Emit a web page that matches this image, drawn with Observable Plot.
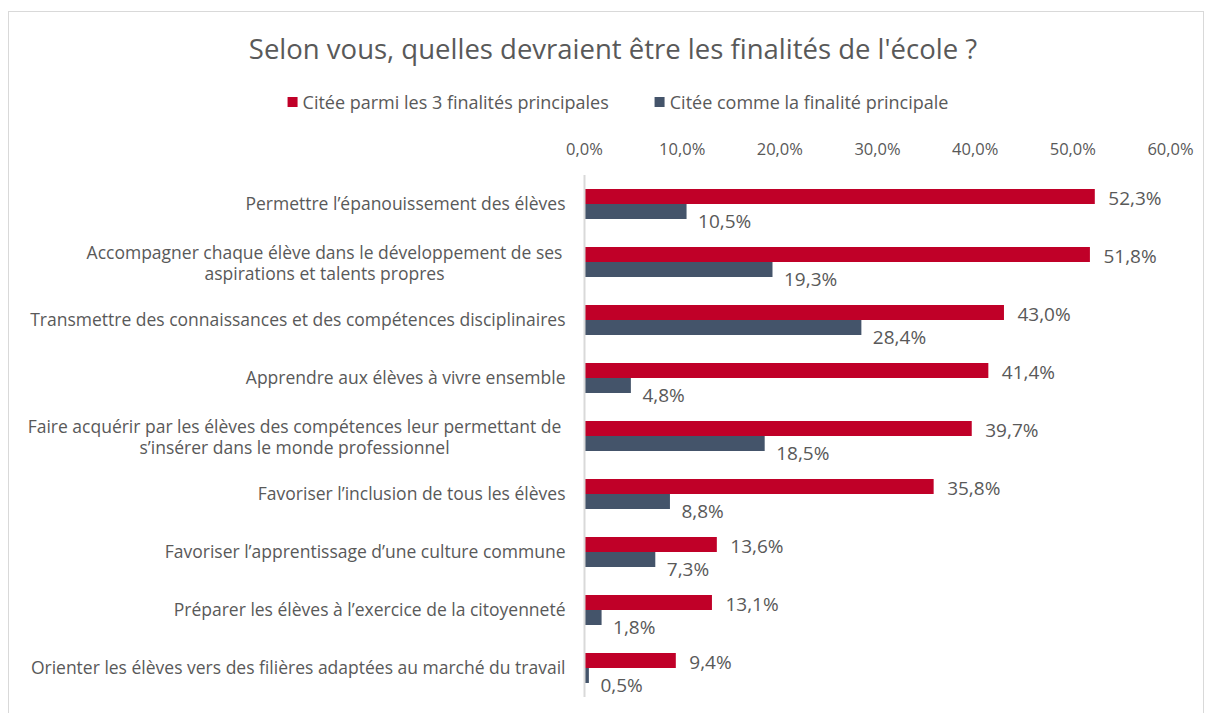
<!DOCTYPE html>
<html>
<head>
<meta charset="utf-8">
<script src="https://cdn.jsdelivr.net/npm/d3@7"></script>
<script src="https://cdn.jsdelivr.net/npm/@observablehq/plot@0.6"></script>
<style>
  html, body { margin: 0; padding: 0; background: #fff; }
  body { width: 1206px; height: 713px; position: relative; overflow: hidden; font-family: "Open Sans", sans-serif; color: #595959; }
  #frame { position: absolute; left: 8px; top: 11px; width: 1196px; height: 720px; border: 1px solid #d9d9d9; box-sizing: border-box; }
  #title { position: absolute; top: 30px; left: 613px; transform: translateX(-50%); white-space: nowrap; font-size: 27.5px; line-height: normal; }
  #legend { position: absolute; top: 90px; left: 618px; transform: translateX(-50%); white-space: nowrap; font-size: 18px; line-height: normal; display: flex; }
  .item { display: flex; align-items: center; }
  .sw { width: 10px; height: 10px; display: inline-block; margin-right: 5px; }
  #chart { position: absolute; left: 0; top: 125px; }
</style>
</head>
<body>
<div id="frame"></div>
<div id="title">Selon vous, quelles devraient être les finalités de l'école ?</div>
<div id="legend"></div>
<div id="chart"></div>
<script>
const categories = [
  "Permettre l’épanouissement des élèves",
  "Accompagner chaque élève dans le développement de ses\naspirations et talents propres",
  "Transmettre des connaissances et des compétences disciplinaires",
  "Apprendre aux élèves à vivre ensemble",
  "Faire acquérir par les élèves des compétences leur permettant de\ns’insérer dans le monde professionnel",
  "Favoriser l’inclusion de tous les élèves",
  "Favoriser l’apprentissage d’une culture commune",
  "Préparer les élèves à l’exercice de la citoyenneté",
  "Orienter les élèves vers des filières adaptées au marché du travail"
];
const seriesNames = ["Citée parmi les 3 finalités principales", "Citée comme la finalité principale"];
const seriesColors = ["#C00028", "#44546A"];
const top3 = [52.3, 51.8, 43.0, 41.4, 39.7, 35.8, 13.6, 13.1, 9.4];
const principal = [10.5, 19.3, 28.4, 4.8, 18.5, 8.8, 7.3, 1.8, 0.5];
const xTicks = [0, 10, 20, 30, 40, 50, 60];

const fmt = v => v.toFixed(1).replace(".", ",") + "%";

const rows = categories.flatMap((c, i) => [
  {cat: c, series: seriesNames[0], value: top3[i]},
  {cat: c, series: seriesNames[1], value: principal[i]}
]);

// legend
const legend = document.getElementById("legend");
seriesNames.forEach((s, i) => {
  const it = document.createElement("span");
  it.className = "item";
  it.style.marginRight = i === 0 ? "46px" : "0";
  it.innerHTML = `<span class="sw" style="background:${seriesColors[i]}"></span>${s}`;
  legend.appendChild(it);
});

const single = categories.filter(c => !c.includes("\n"));
const multi = categories.filter(c => c.includes("\n"));

const chart = Plot.plot({
  width: 1206,
  height: 588,
  marginLeft: 584,
  marginRight: 36,
  marginTop: 50,
  marginBottom: 16,
  style: {fontFamily: "'Open Sans', sans-serif", fontSize: "17.5px", color: "#595959", background: "transparent", overflow: "visible"},
  x: {domain: [0, 60]},
  fy: {domain: categories, padding: 0},
  y: {domain: seriesNames, paddingInner: 0, paddingOuter: 0.933, axis: null},
  color: {domain: seriesNames, range: seriesColors},
  marks: [
    Plot.axisX({anchor: "top", ticks: xTicks, tickSize: 0, tickPadding: 21, tickFormat: fmt, fill: "#595959", fontSize: 16.5, label: null}),
    Plot.axisFy({anchor: "left", ticks: single, tickSize: 0, tickPadding: 19, textAnchor: "end", fill: "#595959", fontSize: 17.5, label: null}),
    Plot.axisFy({anchor: "left", ticks: [multi[0]], tickSize: 0, tickPadding: 260, textAnchor: "middle", fill: "#595959", fontSize: 17.5, label: null, lineHeight: 1.25}),
    Plot.axisFy({anchor: "left", ticks: [multi[1]], tickSize: 0, tickPadding: 290, textAnchor: "middle", fill: "#595959", fontSize: 17.5, label: null, lineHeight: 1.25}),
    Plot.barX(rows, {fy: "cat", y: "series", x: "value", fill: "series"}),
    Plot.ruleX([0], {stroke: "#d9d9d9", strokeWidth: 2}),
    Plot.text(rows.filter(d => d.series === seriesNames[0]), {fy: "cat", y: "series", x: "value", text: d => fmt(d.value), dx: 13, dy: 2, textAnchor: "start", fill: "#595959", fontSize: 19}),
    Plot.text(rows.filter(d => d.series === seriesNames[1]), {fy: "cat", y: "series", x: "value", text: d => fmt(d.value), dx: 11, dy: 10, textAnchor: "start", fill: "#595959", fontSize: 19})
  ]
});
document.getElementById("chart").appendChild(chart);
</script>
</body>
</html>
